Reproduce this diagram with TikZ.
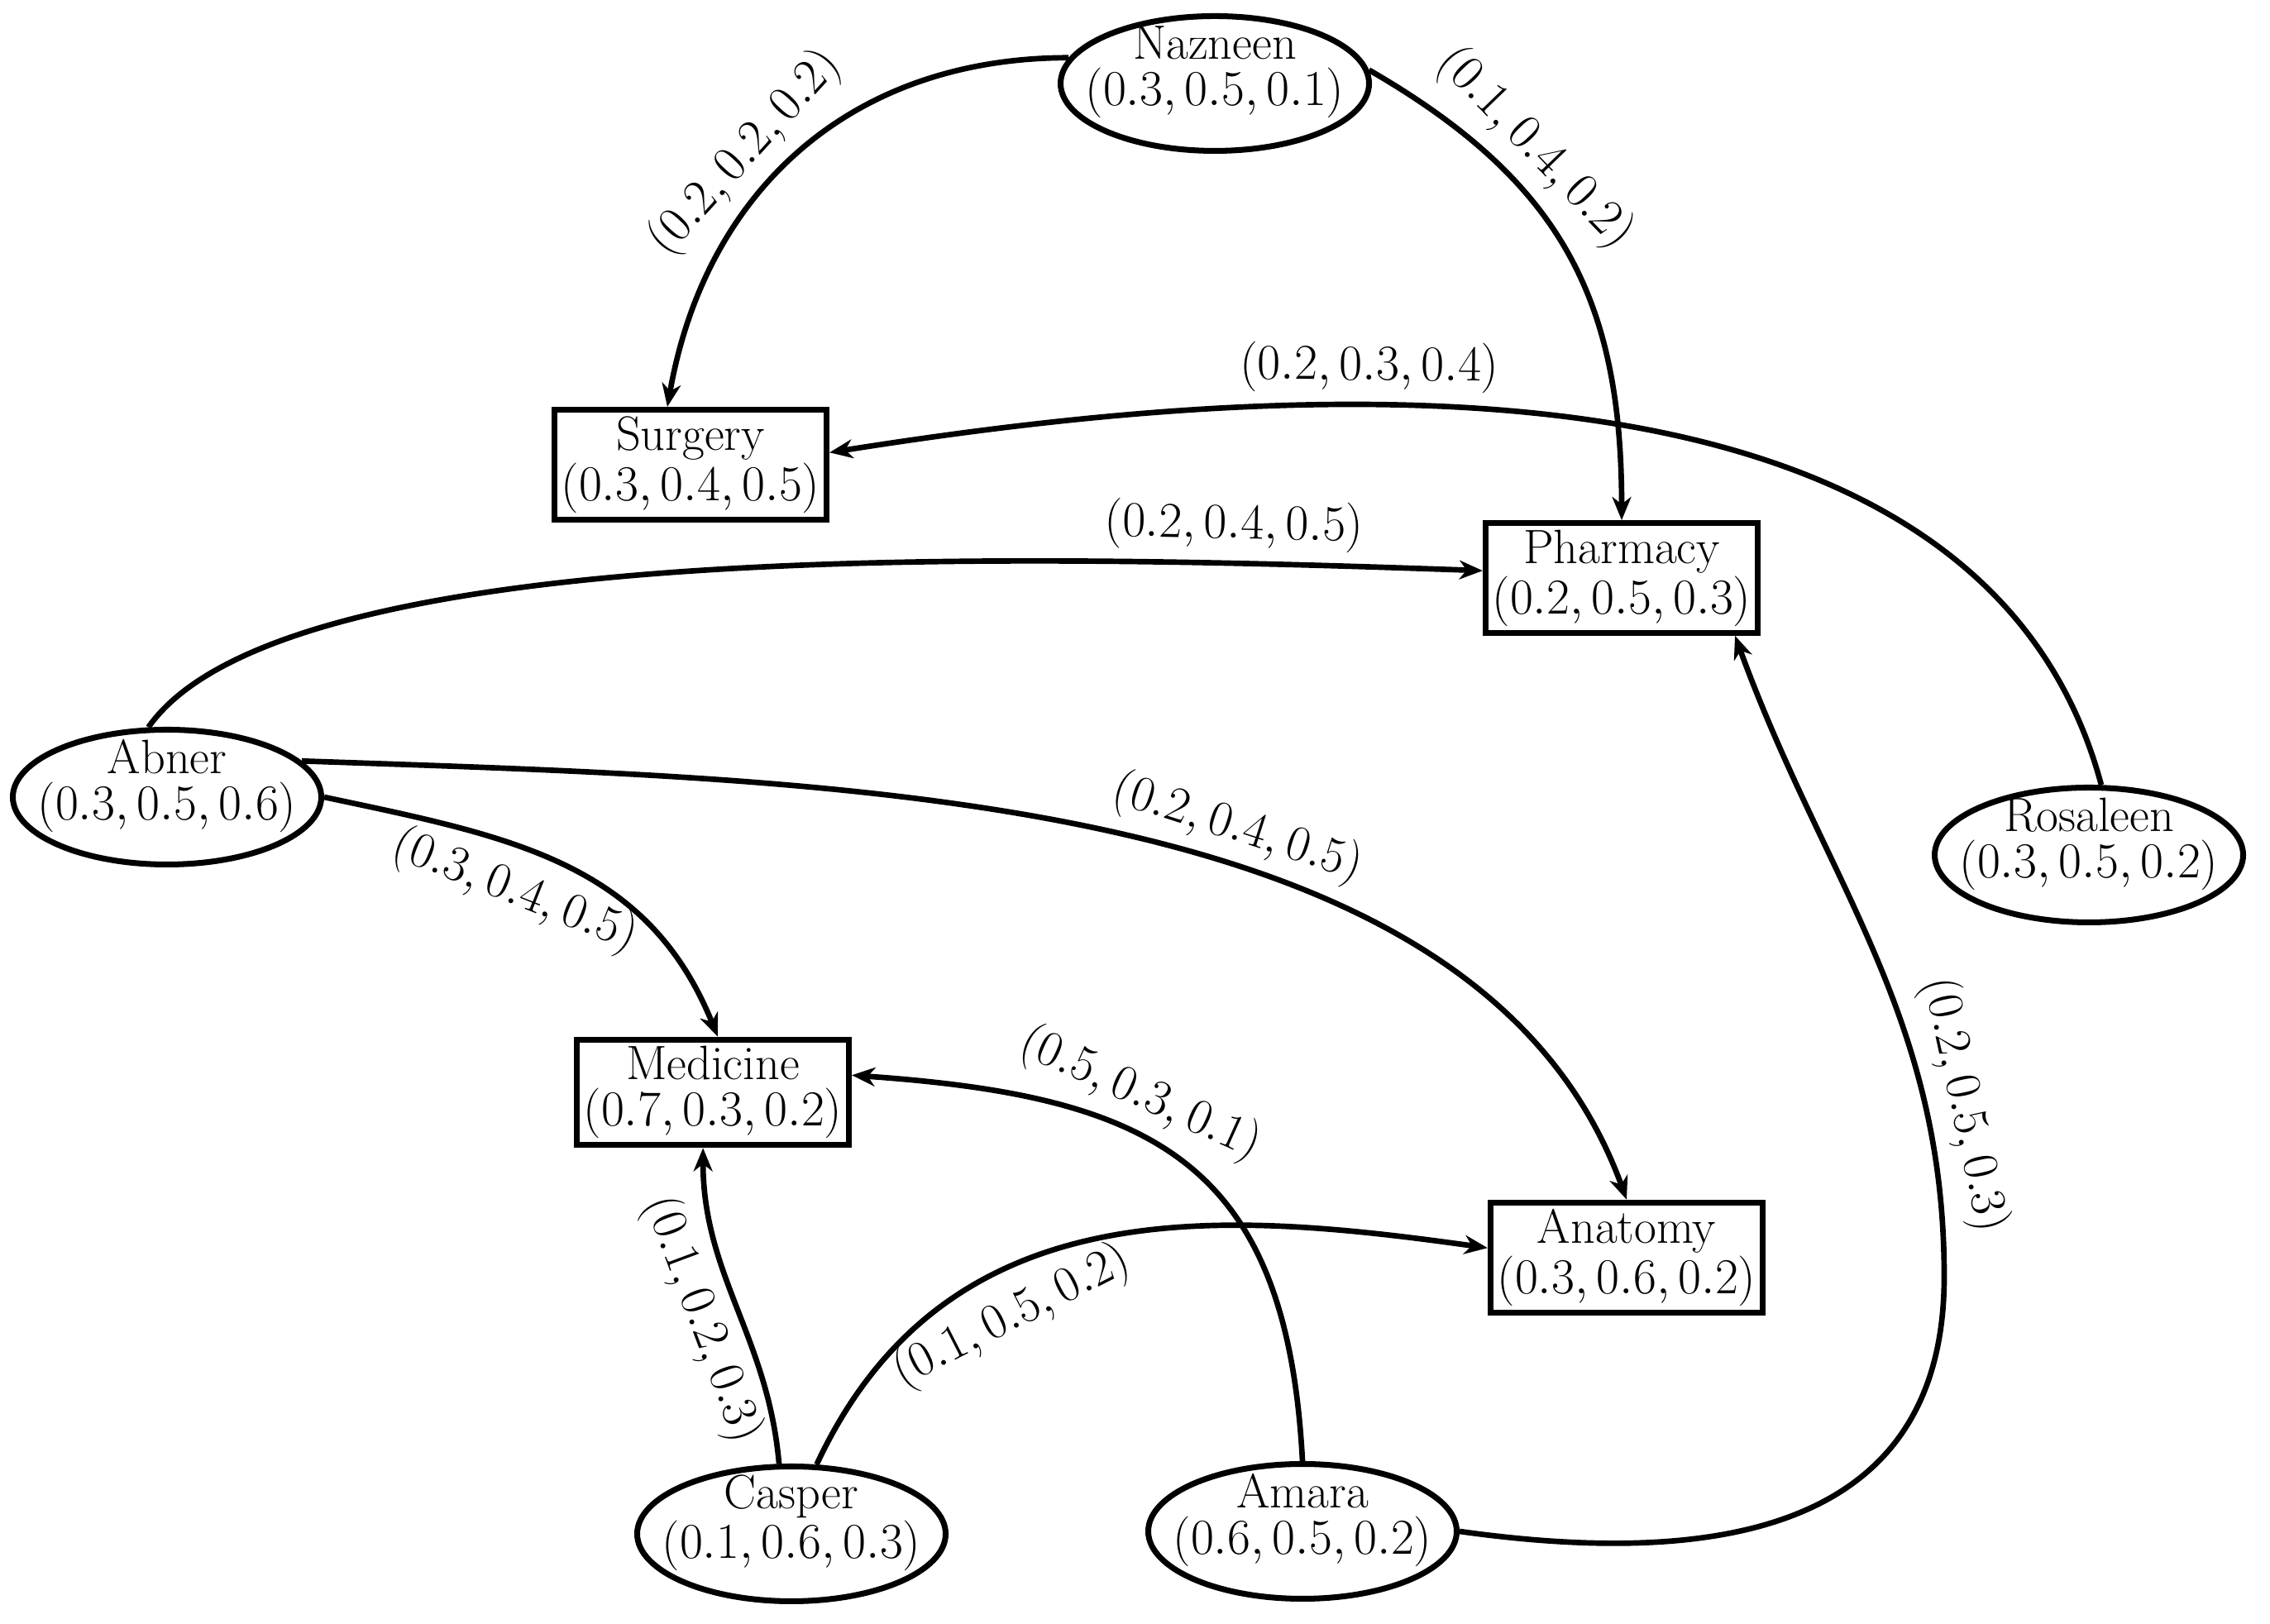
\documentclass[tikz,border=0pt]{standalone}
\usepackage{amsmath,amssymb,amsfonts}
\usepackage{xcolor}
\usepackage{tikz}
\usetikzlibrary{arrows.meta,shapes.geometric}

\begin{document}
\begin{tikzpicture}[line width=1.9pt, >={Stealth[length=8pt,width=6.5pt,inset=2.5pt]},
    every node/.style={font=\fontsize{16.6}{15.9}\selectfont},
    dept/.style={draw, rectangle, line width=2pt, align=center, inner sep=2.3pt},
    person/.style={draw, ellipse, line width=2pt, align=center, minimum width=3.73cm, minimum height=1.63cm, inner xsep=-0.3cm, inner ysep=-0.15cm, text depth=0.42cm},
    wt/.style={sloped}]
    \useasboundingbox (0,0) rectangle (27.45,19.64);
    \node[person] (nazneen) at (14.69,18.63) {Nazneen\\$(0.3, 0.5, 0.1)$};
    \node[person] (abner) at (2.02,10.0) {Abner\\$(0.3, 0.5, 0.6)$};
    \node[person] (rosaleen) at (25.26,9.30) {Rosaleen\\$(0.3, 0.5, 0.2)$};
    \node[person] (casper) at (9.57,1.09) {Casper\\$(0.1, 0.6, 0.3)$};
    \node[person] (amara) at (15.75,1.12) {Amara\\$(0.6, 0.5, 0.2)$};
    \node[dept] (surgery) at (8.35,14.02) {Surgery\\$(0.3, 0.4, 0.5)$};
    \node[dept] (pharmacy) at (19.61,12.65) {Pharmacy\\$(0.2, 0.5, 0.3)$};
    \node[dept] (medicine) at (8.62,6.43) {Medicine\\$(0.7, 0.3, 0.2)$};
    \node[dept] (anatomy) at (19.67,4.43) {Anatomy\\$(0.3, 0.6, 0.2)$};
    \coordinate (amaraturn) at (23.51,4.2);
    \draw[->] (nazneen.170) to[out=180, in=80, looseness=1.05] node[wt, pos=0.57, above] {$(0.2, 0.2, 0.2)$} ([xshift=-0.28cm]surgery.north);
    \draw[->] (nazneen.5) to[out=-30, in=90, looseness=1.1] node[wt, pos=0.3, above] {$(0.1, 0.4, 0.2)$} (pharmacy.north);
    \draw[->] (rosaleen.80) to[out=105, in=9, out looseness=0.95, in looseness=0.8] node[wt, pos=0.63, above] {$(0.2, 0.3, 0.4)$} (surgery.5);
    \draw[->] (abner.105) to[out=55, in=178, out looseness=0.45, in looseness=0.85] node[wt, pos=0.83, above] {$(0.2, 0.4, 0.5)$} (pharmacy.177);
    \draw[->] (abner.15) to[out=-2, in=110, out looseness=1, in looseness=0.8] node[wt, pos=0.58, above] {$(0.2, 0.4, 0.5)$} (anatomy.north);
    \draw[->] (abner.east) to[out=-12, in=112, looseness=1.05] node[wt, pos=0.42, below=2pt] {$(0.3, 0.4, 0.5)$} (medicine.85);
    \draw[->] (amara.north) to[out=93, in=-4, looseness=1.3] node[wt, pos=0.62, above] {$(0.5, 0.3, 0.1)$} (medicine.7);
    \draw[->] (casper.100) to[out=95, in=-90] node[wt, pos=0.5, below] {$(0.1, 0.2, 0.3)$} (medicine.-100);
    \draw[->] (casper.70) to[out=65, in=172, out looseness=1.1] node[wt, pos=0.34, below=3pt] {$(0.1, 0.5, 0.2)$} (anatomy.176);
    \draw[->] (amara.east) to[out=-8, in=-90, looseness=1.2] (amaraturn) to[out=90, in=-70] node[wt, pos=0.23, above] {$(0.2, 0.5, 0.3)$} (pharmacy.-27);
\end{tikzpicture}
\end{document}
